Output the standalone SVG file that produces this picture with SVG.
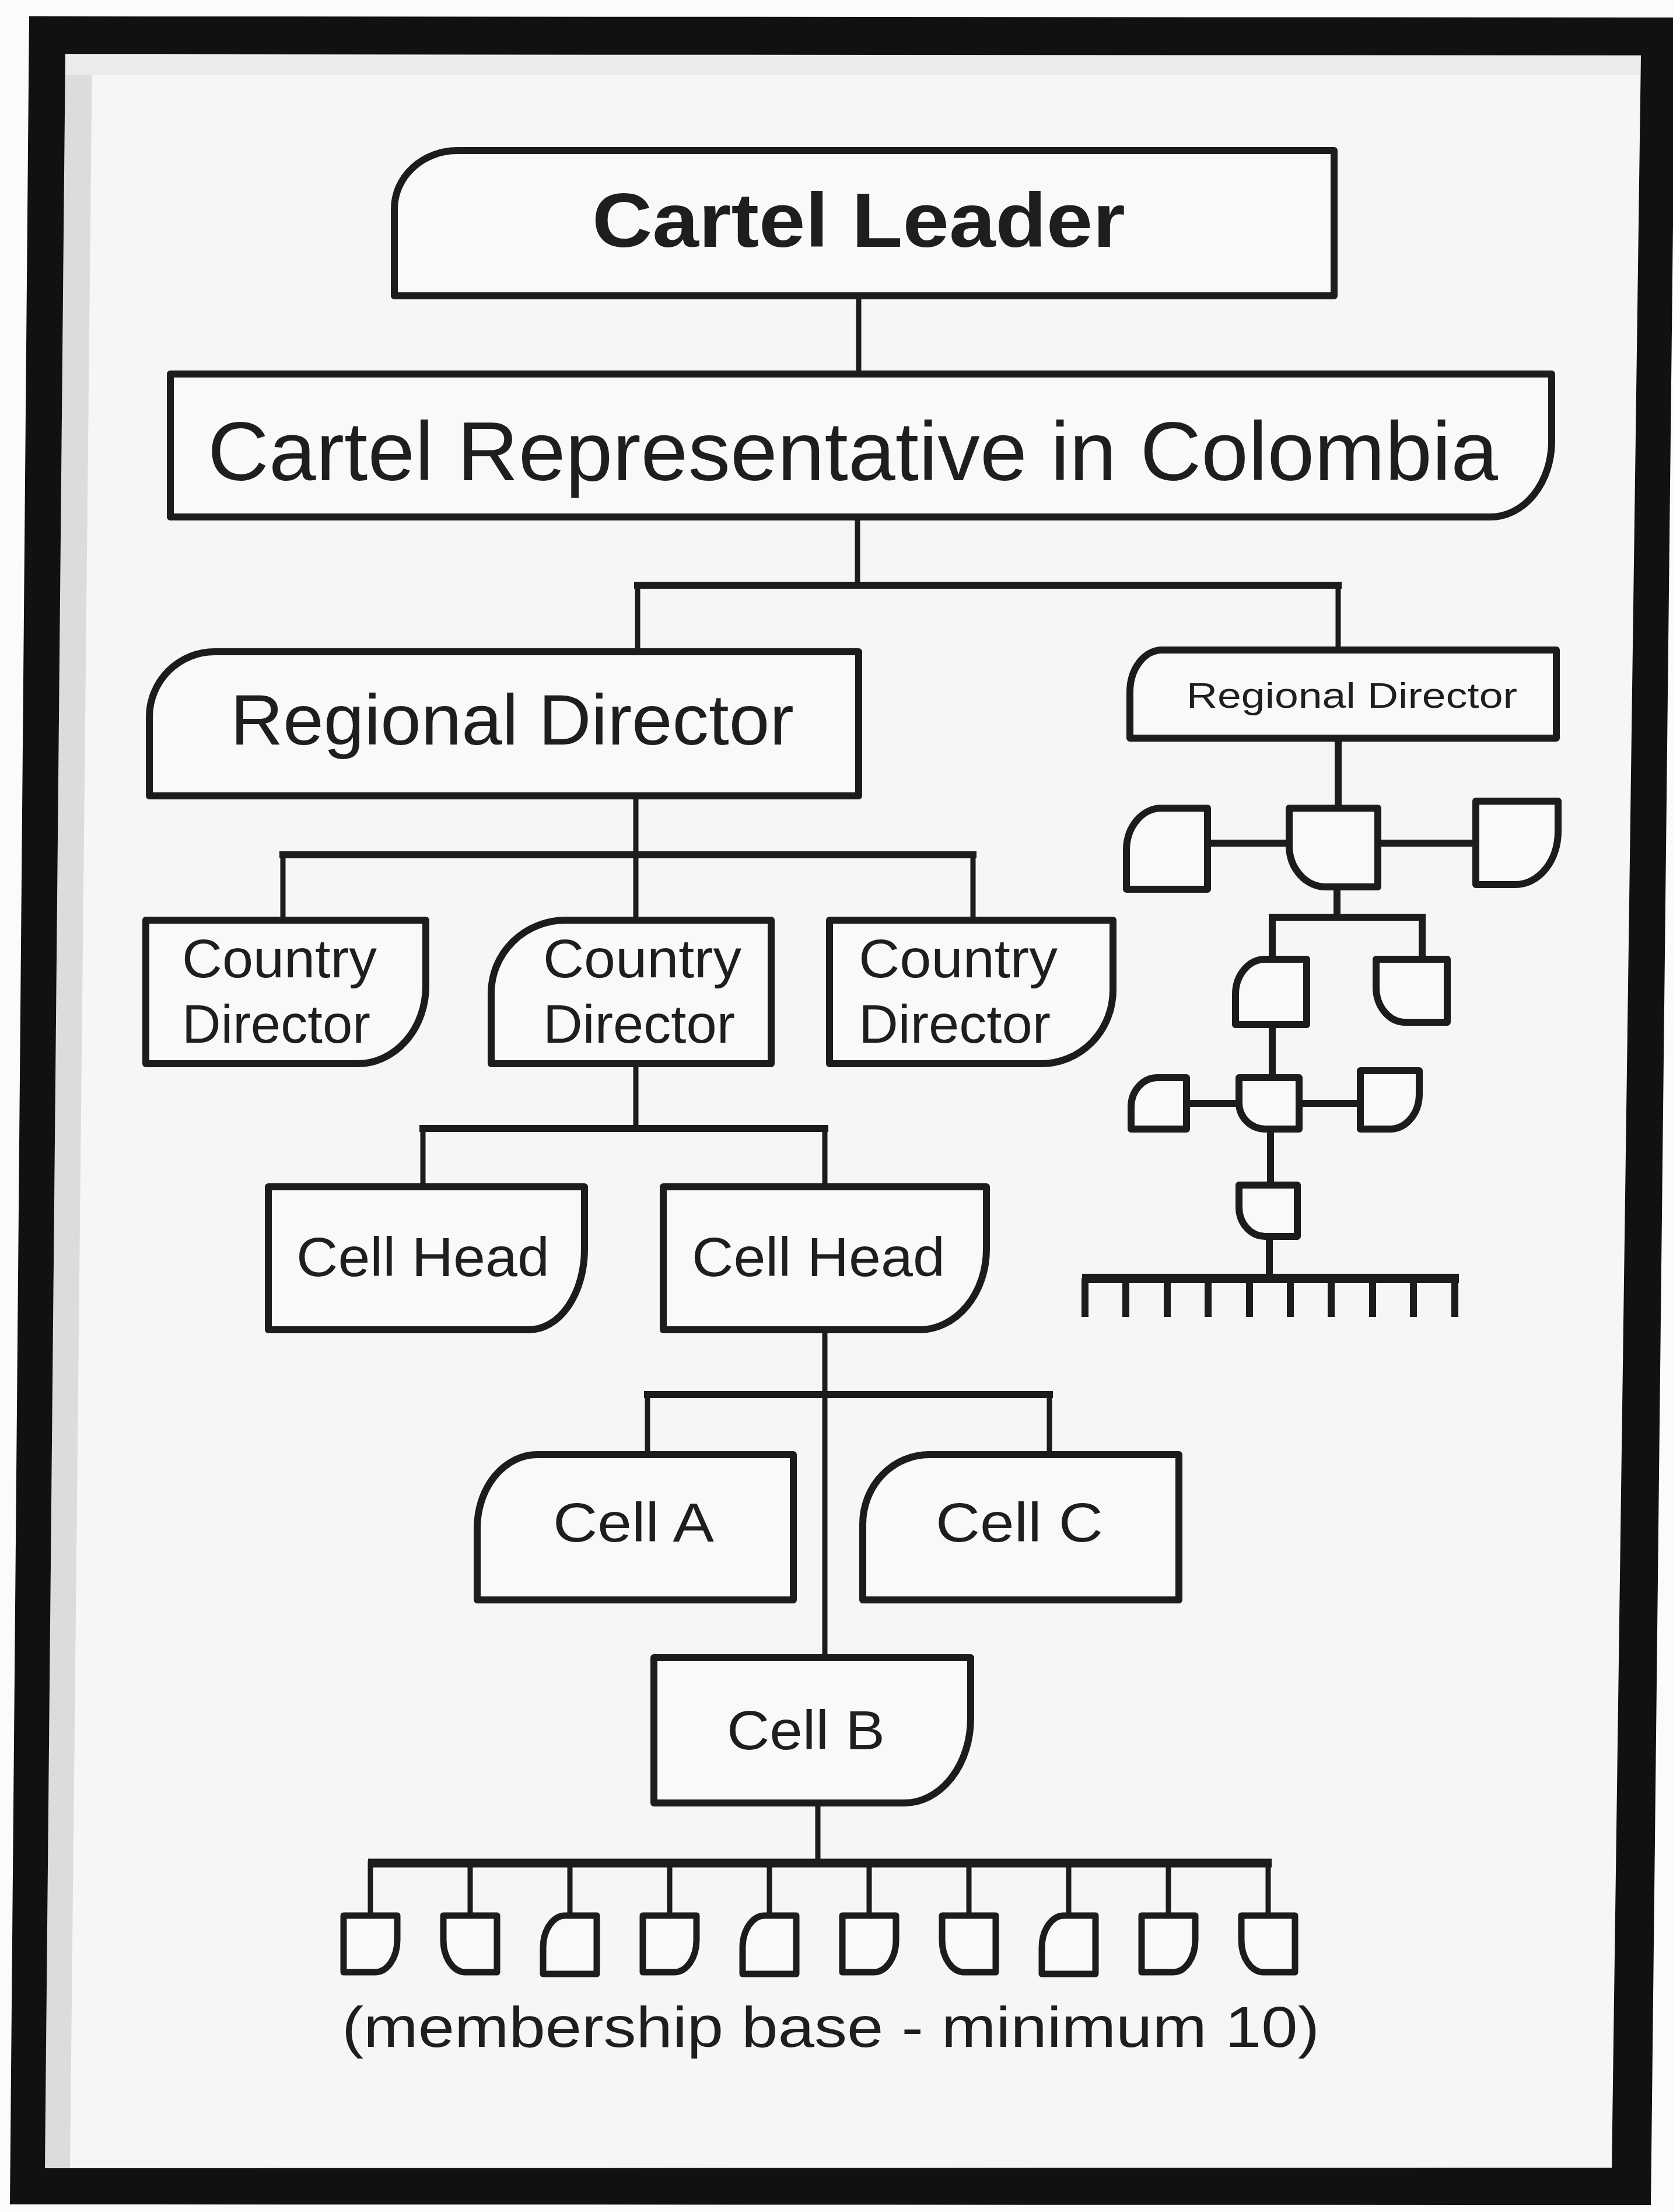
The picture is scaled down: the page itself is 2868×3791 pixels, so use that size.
<svg xmlns="http://www.w3.org/2000/svg" width="2868" height="3791" viewBox="0 0 2868 3791">
<style>
.box{fill:#f9f9f9;stroke:#1c1c1c;stroke-width:12;stroke-linejoin:round}
.mb{fill:#f9f9f9;stroke:#1c1c1c;stroke-width:11;stroke-linejoin:round}
.link{stroke:#1c1c1c;stroke-width:9;fill:none;stroke-linecap:square}
.bar{stroke:#1c1c1c;stroke-width:12;fill:none;stroke-linecap:square}
.thick{stroke:#1c1c1c;stroke-width:12;fill:none;stroke-linecap:square}
.t{font-family:'Liberation Sans',Arial,Helvetica,sans-serif;fill:#1e1e1e}
.b{font-weight:bold}
</style>
<rect x="0" y="0" width="2868" height="3791" fill="#fbfbfb"/>
<g id="frame">
<path d="M112,93 L2813,95 L2763,3715 L77,3716 Z" fill="#f6f6f6"/>
<path d="M112,95 L158,95 L120,3715 L77,3715 Z" fill="#dcdcdc"/>
<path d="M112,95 L2813,95 L2812,128 L112,128 Z" fill="#ebebeb"/>
<path fill-rule="evenodd" fill="#111" d="M50,28 L2872,30 L2830,3779 L17,3778 Z M112,93 L2813,95 L2763,3715 L77,3716 Z"/>
</g>
<g id="connectors">
<path class="link" d="M1472,507 V641"/>
<path class="link" d="M1470,886 V1003"/>
<path class="bar" d="M1093,1003 H2294"/>
<path class="link" d="M1093,1003 V1117"/>
<path class="link" d="M2294,1003 V1114"/>
<path class="link" d="M1090,1364 V1577"/>
<path class="bar" d="M485,1465 H1668"/>
<path class="link" d="M485,1465 V1577"/>
<path class="link" d="M1668,1465 V1577"/>
<path class="link" d="M1090,1823 V1934"/>
<path class="bar" d="M725,1934 H1414"/>
<path class="link" d="M725,1934 V2034"/>
<path class="link" d="M1414,1934 V2034"/>
<path class="link" d="M1414,2279 V2841"/>
<path class="bar" d="M1110,2390 H1799"/>
<path class="link" d="M1110,2390 V2493"/>
<path class="link" d="M1799,2390 V2493"/>
<path class="link" d="M1402,3090 V3193"/>
<path stroke="#1c1c1c" stroke-width="15" fill="none" d="M631,3193 H2180"/>
<path class="link" d="M635,3193 V3283 M806,3193 V3283 M977,3193 V3283 M1148,3193 V3283 M1319,3193 V3283 M1490,3193 V3283 M1661,3193 V3283 M1832,3193 V3283 M2003,3193 V3283 M2174,3193 V3283"/>
<path class="thick" d="M2294,1265 V1385"/>
<path class="thick" d="M2070,1445 H2210 M2362,1445 H2530"/>
<path class="thick" d="M2292,1520 V1572"/>
<path class="thick" d="M2181,1572 H2438"/>
<path class="thick" d="M2181,1572 V1644 M2438,1572 V1644"/>
<path class="thick" d="M2181,1756 V1847"/>
<path class="thick" d="M2034,1891 H2124 M2227,1891 H2332"/>
<path class="thick" d="M2178,1935 V2031"/>
<path class="thick" d="M2176,2119 V2191"/>
<path stroke="#1c1c1c" stroke-width="16" fill="none" d="M1855,2191 H2501"/>
<path stroke="#1c1c1c" stroke-width="12" fill="none" d="M1860,2191 V2257 M1930,2191 V2257 M2001,2191 V2257 M2071,2191 V2257 M2142,2191 V2257 M2212,2191 V2257 M2282,2191 V2257 M2353,2191 V2257 M2423,2191 V2257 M2494,2191 V2257"/>
</g>
<g id="cartel-leader">
<path class="box" d="M676,358 A108,100 0 0 1 784,258 H2287 V507 H676 Z"/>
<text class="t b" x="1015" y="423" font-size="132" textLength="914" lengthAdjust="spacingAndGlyphs">Cartel Leader</text>
</g>
<g id="cartel-representative">
<path class="box" d="M292,641 H2660 V756 A105,130 0 0 1 2555,886 H292 Z"/>
<text class="t" x="356" y="823" font-size="142" textLength="2212" lengthAdjust="spacingAndGlyphs">Cartel Representative in Colombia</text>
</g>
<g id="regional-director-1">
<path class="box" d="M256,1229 A112,112 0 0 1 368,1117 H1472 V1364 H256 Z"/>
<text class="t" x="395" y="1276" font-size="123" textLength="966" lengthAdjust="spacingAndGlyphs">Regional Director</text>
</g>
<g id="regional-director-2">
<path class="box" d="M1937,1186 A55,72 0 0 1 1992,1114 H2668 V1265 H1937 Z"/>
<text class="t" x="2034" y="1213" font-size="61" textLength="567" lengthAdjust="spacingAndGlyphs">Regional Director</text>
</g>
<g id="country-director-1">
<path class="box" d="M250,1577 H730 V1690 A117,133 0 0 1 613,1823 H250 Z"/>
<text class="t" x="312" y="1675" font-size="92" textLength="334" lengthAdjust="spacingAndGlyphs">Country</text>
<text class="t" x="312" y="1787" font-size="92" textLength="323" lengthAdjust="spacingAndGlyphs">Director</text>
</g>
<g id="country-director-2">
<path class="box" d="M842,1702 A128,125 0 0 1 970,1577 H1322 V1823 H842 Z"/>
<text class="t" x="931" y="1675" font-size="92" textLength="340" lengthAdjust="spacingAndGlyphs">Country</text>
<text class="t" x="931" y="1787" font-size="92" textLength="329" lengthAdjust="spacingAndGlyphs">Director</text>
</g>
<g id="country-director-3">
<path class="box" d="M1422,1577 H1908 V1697 A123,126 0 0 1 1785,1823 H1422 Z"/>
<text class="t" x="1472" y="1675" font-size="92" textLength="341" lengthAdjust="spacingAndGlyphs">Country</text>
<text class="t" x="1472" y="1787" font-size="92" textLength="329" lengthAdjust="spacingAndGlyphs">Director</text>
</g>
<g id="cell-head-1">
<path class="box" d="M460,2034 H1002 V2141 A95,138 0 0 1 907,2279 H460 Z"/>
<text class="t" x="508" y="2187" font-size="95" textLength="434" lengthAdjust="spacingAndGlyphs">Cell Head</text>
</g>
<g id="cell-head-2">
<path class="box" d="M1137,2034 H1691 V2141 A115,138 0 0 1 1576,2279 H1137 Z"/>
<text class="t" x="1186" y="2187" font-size="95" textLength="434" lengthAdjust="spacingAndGlyphs">Cell Head</text>
</g>
<g id="cell-a">
<path class="box" d="M818,2619 A103,126 0 0 1 921,2493 H1360 V2742 H818 Z"/>
<text class="t" x="948" y="2642" font-size="95" textLength="276" lengthAdjust="spacingAndGlyphs">Cell A</text>
</g>
<g id="cell-c">
<path class="box" d="M1479,2612 A114,119 0 0 1 1593,2493 H2021 V2742 H1479 Z"/>
<text class="t" x="1604" y="2642" font-size="95" textLength="287" lengthAdjust="spacingAndGlyphs">Cell C</text>
</g>
<g id="cell-b">
<path class="box" d="M1121,2841 H1664 V2945 A114,145 0 0 1 1550,3090 H1121 Z"/>
<text class="t" x="1246" y="2998" font-size="95" textLength="271" lengthAdjust="spacingAndGlyphs">Cell B</text>
</g>
<g id="regional-network">
<path class="box" d="M1931,1457 A60,72 0 0 1 1991,1385 H2070 V1524 H1931 Z"/>
<path class="box" d="M2210,1385 H2362 V1520 H2273 A63,71 0 0 1 2210,1449 Z"/>
<path class="box" d="M2530,1373 H2671 V1425 A73,91 0 0 1 2598,1516 H2530 Z"/>
<path class="box" d="M2118,1704 A51,60 0 0 1 2169,1644 H2240 V1756 H2118 Z"/>
<path class="box" d="M2359,1644 H2481 V1752 H2409 A50,60 0 0 1 2359,1692 Z"/>
<path class="box" d="M1939,1897 A45,50 0 0 1 1984,1847 H2034 V1935 H1939 Z"/>
<path class="box" d="M2124,1847 H2227 V1935 H2169 A45,45 0 0 1 2124,1890 Z"/>
<path class="box" d="M2332,1835 H2433 V1875 A50,60 0 0 1 2383,1935 H2332 Z"/>
<path class="box" d="M2124,2031 H2224 V2119 H2169 A45,50 0 0 1 2124,2069 Z"/>
</g>
<g id="membership-base">
<path class="mb" d="M589,3283 H681 V3325 A38,55 0 0 1 643,3380 H589 Z"/>
<path class="mb" d="M760,3283 H852 V3380 H798 A38,55 0 0 1 760,3325 Z"/>
<path class="mb" d="M931,3338 A38,55 0 0 1 969,3283 H1023 V3383 H931 Z"/>
<path class="mb" d="M1102,3283 H1194 V3325 A38,55 0 0 1 1156,3380 H1102 Z"/>
<path class="mb" d="M1273,3338 A38,55 0 0 1 1311,3283 H1365 V3383 H1273 Z"/>
<path class="mb" d="M1444,3283 H1536 V3325 A38,55 0 0 1 1498,3380 H1444 Z"/>
<path class="mb" d="M1615,3283 H1707 V3380 H1653 A38,55 0 0 1 1615,3325 Z"/>
<path class="mb" d="M1786,3338 A38,55 0 0 1 1824,3283 H1878 V3383 H1786 Z"/>
<path class="mb" d="M1957,3283 H2049 V3325 A38,55 0 0 1 2011,3380 H1957 Z"/>
<path class="mb" d="M2128,3283 H2220 V3380 H2166 A38,55 0 0 1 2128,3325 Z"/>
<text class="t" x="586" y="3508" font-size="98" textLength="1676" lengthAdjust="spacingAndGlyphs">(membership base - minimum 10)</text>
</g>
</svg>
